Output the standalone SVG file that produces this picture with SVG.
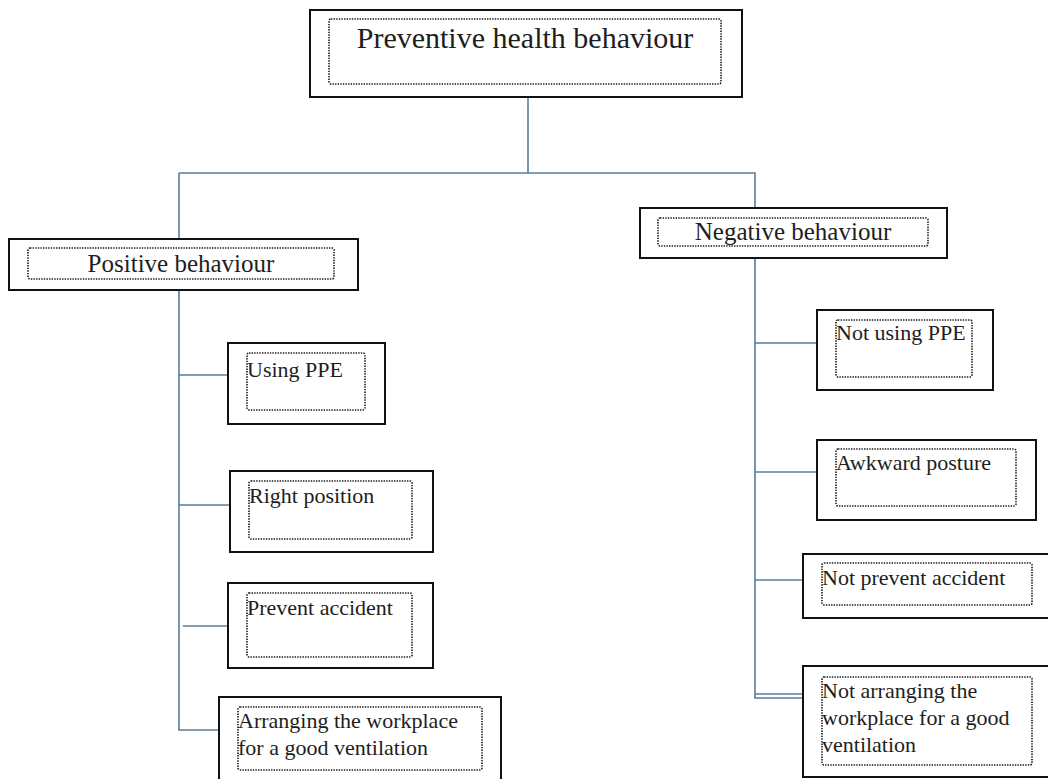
<svg xmlns="http://www.w3.org/2000/svg" width="1048" height="779" viewBox="0 0 1048 779">
  <style>
    .box { fill: #ffffff; stroke: #111111; stroke-width: 2; }
    .inner { fill: none; stroke: #1a1a1a; stroke-width: 1.6; stroke-dasharray: 1.4 1.2; }
    .conn { fill: none; stroke: #5a7d98; stroke-width: 1.6; }
    text { font-family: "Liberation Serif", "Times New Roman", serif; fill: #1e1e1e; }
    .t-root { font-size: 30px; text-anchor: middle; }
    .t-mid { font-size: 25px; text-anchor: middle; }
    .t-leaf { font-size: 22px; }
  </style>
  <rect width="1048" height="779" fill="#ffffff"/>

  <!-- connectors -->
  <g id="connectors">
    <path class="conn" d="M528 97 V173"/>
    <path class="conn" d="M179 173 H755 V208"/>
    <path class="conn" d="M179 173 V730 H219"/>
    <path class="conn" d="M179 375 H228"/>
    <path class="conn" d="M179 505 H230"/>
    <path class="conn" d="M183 626 H228"/>
    <path class="conn" d="M755 258 V698 H803"/>
    <path class="conn" d="M755 694 H803"/>
    <path class="conn" d="M755 343 H817"/>
    <path class="conn" d="M755 472 H817"/>
    <path class="conn" d="M755 580 H803"/>
  </g>

  <!-- root -->
  <g id="root">
    <rect class="box" x="310" y="10" width="432" height="87"/>
    <rect class="inner" x="329" y="19" width="392" height="65" rx="2"/>
    <text class="t-root" x="525" y="48">Preventive health behaviour</text>
  </g>

  <!-- first level -->
  <g id="positive">
    <rect class="box" x="9" y="239" width="349" height="51"/>
    <rect class="inner" x="28" y="248" width="306" height="31" rx="2"/>
    <text class="t-mid" x="181" y="272">Positive behaviour</text>
  </g>
  <g id="negative">
    <rect class="box" x="640" y="208" width="307" height="50"/>
    <rect class="inner" x="658" y="218" width="270" height="28" rx="2"/>
    <text class="t-mid" x="793" y="240">Negative behaviour</text>
  </g>

  <!-- positive children -->
  <g id="using-ppe">
    <rect class="box" x="228" y="343" width="157" height="81"/>
    <rect class="inner" x="247" y="353" width="118" height="57" rx="2"/>
    <text class="t-leaf" x="247" y="377">Using PPE</text>
  </g>
  <g id="right-position">
    <rect class="box" x="230" y="471" width="203" height="81"/>
    <rect class="inner" x="249" y="481" width="163" height="58" rx="2"/>
    <text class="t-leaf" x="249" y="503">Right position</text>
  </g>
  <g id="prevent-accident">
    <rect class="box" x="228" y="583" width="205" height="85"/>
    <rect class="inner" x="247" y="593" width="165" height="64" rx="2"/>
    <text class="t-leaf" x="247" y="615">Prevent accident</text>
  </g>
  <g id="arranging">
    <rect class="box" x="219" y="697" width="282" height="90"/>
    <rect class="inner" x="238" y="707" width="244" height="63" rx="2"/>
    <text class="t-leaf" x="238" y="728">Arranging the workplace</text>
    <text class="t-leaf" x="238" y="755">for a good ventilation</text>
  </g>

  <!-- negative children -->
  <g id="not-using-ppe">
    <rect class="box" x="817" y="310" width="176" height="80"/>
    <rect class="inner" x="836" y="320" width="136" height="57" rx="2"/>
    <text class="t-leaf" x="836" y="340">Not using PPE</text>
  </g>
  <g id="awkward-posture">
    <rect class="box" x="817" y="440" width="219" height="80"/>
    <rect class="inner" x="836" y="449" width="180" height="57" rx="2"/>
    <text class="t-leaf" x="836" y="470">Awkward posture</text>
  </g>
  <g id="not-prevent-accident">
    <rect class="box" x="803" y="554" width="250" height="64"/>
    <rect class="inner" x="822" y="563" width="210" height="42" rx="2"/>
    <text class="t-leaf" x="822" y="585">Not prevent accident</text>
  </g>
  <g id="not-arranging">
    <rect class="box" x="803" y="666" width="250" height="111"/>
    <rect class="inner" x="822" y="677" width="210" height="88" rx="2"/>
    <text class="t-leaf" x="822" y="698">Not arranging the</text>
    <text class="t-leaf" x="822" y="725">workplace for a good</text>
    <text class="t-leaf" x="822" y="752">ventilation</text>
  </g>
</svg>
